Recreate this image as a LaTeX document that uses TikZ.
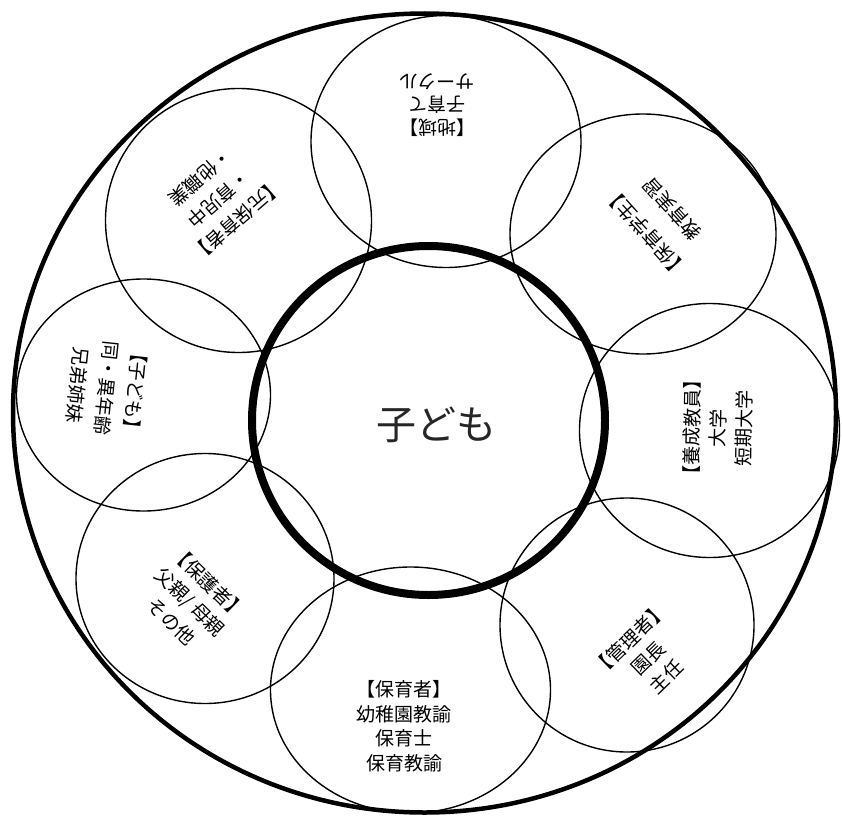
\documentclass[tikz,border=0pt]{standalone}
\usepackage{fontspec}
\newfontfamily\jp{Noto Sans CJK JP}
\begin{document}
\begin{tikzpicture}[x=1pt,y=-1pt,
  sat/.style={line width=1.4pt},
  lbl/.style={font=\jp\fontsize{19}{26}\selectfont, align=center, text=black, inner sep=0pt}]
\useasboundingbox (0,0) rectangle (842,816);
\fill[white] (0,0) rectangle (842,816);
% outer ring
\draw[line width=4.5pt] (424.5,413) ellipse [x radius=411.5pt, y radius=399.5pt];
% satellites
\draw[sat] (446,141.5) ellipse [x radius=135pt, y radius=126pt];
\draw[sat] (238.5,220.5) ellipse [x radius=133pt, y radius=132pt];
\draw[sat] (643,234) ellipse [x radius=133pt, y radius=120pt];
\draw[sat] (143.5,395) ellipse [x radius=127pt, y radius=116pt];
\draw[sat] (709.5,430.5) ellipse [x radius=130pt, y radius=127pt];
\draw[sat] (205,578.5) ellipse [x radius=129pt, y radius=125pt];
\draw[sat] (627,625) ellipse [x radius=127pt, y radius=127pt];
\draw[sat] (410.5,690) ellipse [x radius=140pt, y radius=123pt];
% centre ring
\draw[line width=8pt] (428.5,420.5) ellipse [x radius=176.5pt, y radius=174.5pt];
% labels
\node[font=\jp\fontsize{40}{48}\selectfont, text=black!85] (child) at (436,425) {子ども};
\node[lbl, rotate=180, font=\jp\fontsize{19}{23}\selectfont] (chiiki) at (437,105) {【地域】\\子育て\\サークル};
\node[lbl, rotate=221, font=\jp\fontsize{19}{28}\selectfont] (kinrin) at (219,199) {【元保育者】\\・育児中\\・他職業};
\node[lbl, rotate=132, font=\jp\fontsize{19}{35}\selectfont] (gakusei) at (659,221) {【保育学生】\\教育実習};
\node[lbl, rotate=264, font=\jp\fontsize{19}{29}\selectfont] (kodomo) at (107,388) {【子ども】\\同・異年齢\\兄弟姉妹};
\node[lbl, rotate=89] (yousei) at (718,428) {【養成教員】\\大学\\短期大学};
\node[lbl, rotate=-44, font=\jp\fontsize{19}{27}\selectfont] (hogosha) at (190,602) {【保護者】\\父親/ 母親\\その他};
\node[lbl, rotate=44] (kanri) at (648,658) {【管理者】\\園長\\主任};
\node[lbl, font=\jp\fontsize{19}{24.5}\selectfont] (hoiku) at (404,726) {【保育者】\\幼稚園教諭\\保育士\\保育教諭};
\end{tikzpicture}
\end{document}
